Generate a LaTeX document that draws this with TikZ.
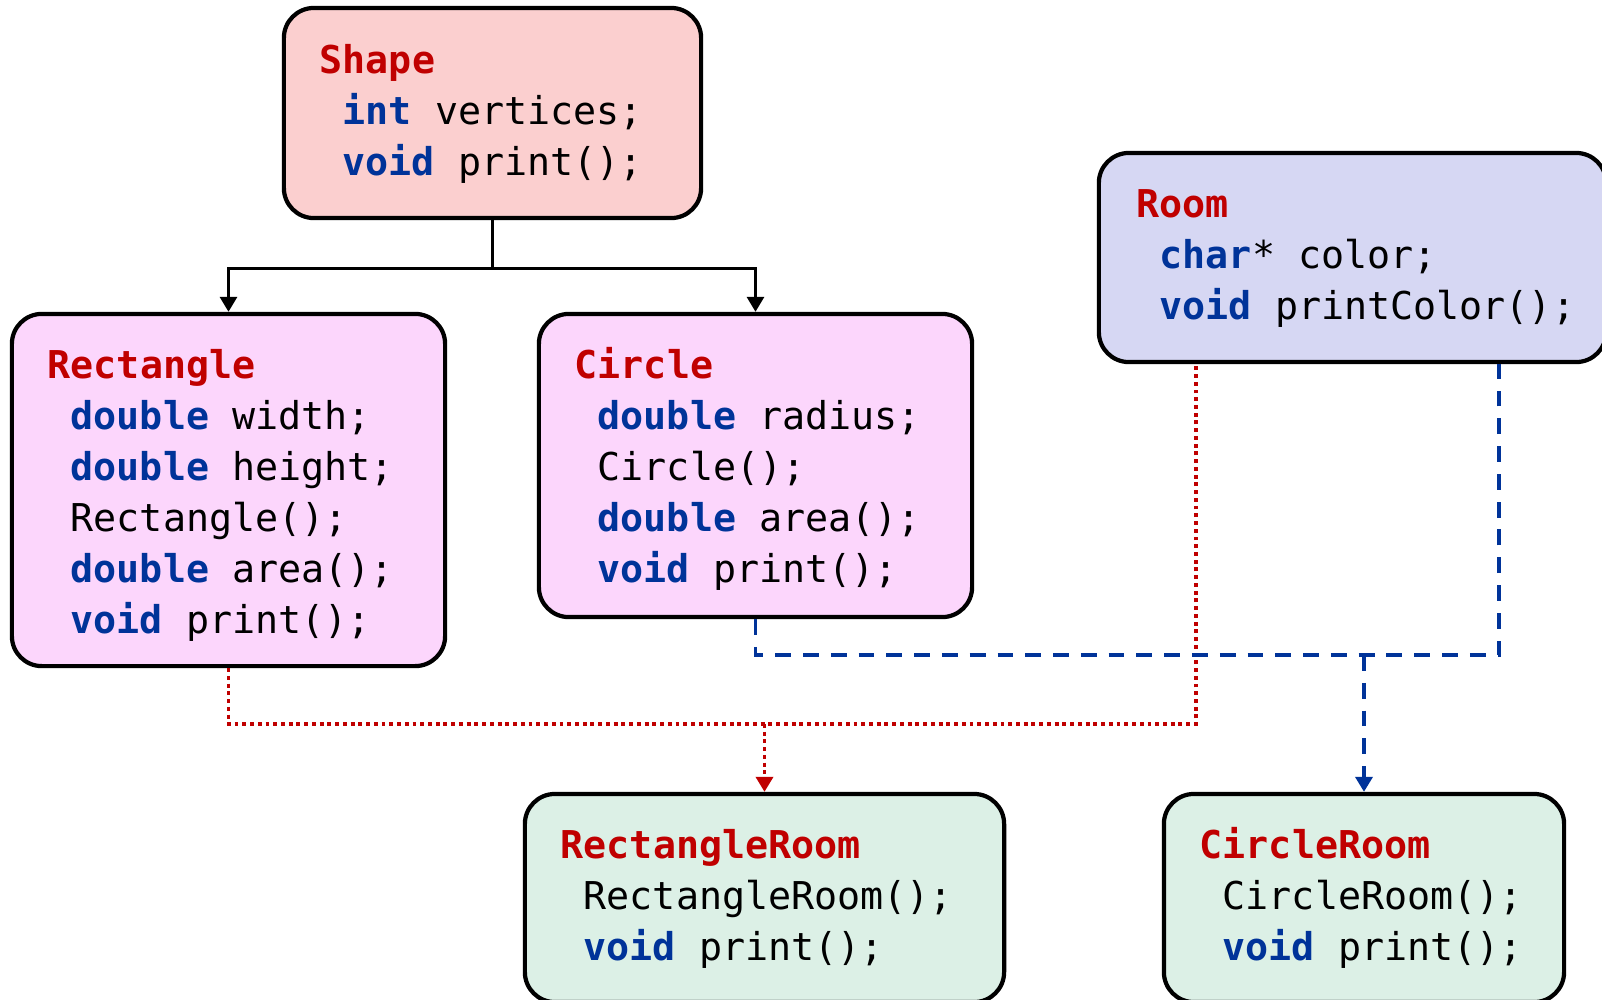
\documentclass[tikz,border=0pt]{standalone}
\usepackage{fontspec}
\setmonofont{DejaVu Sans Mono}
\usepackage{xcolor}
\usetikzlibrary{arrows.meta}

\definecolor{titlered}{RGB}{192,0,0}
\definecolor{kwblue}{RGB}{0,51,153}
\definecolor{shapefill}{RGB}{251,207,207}
\definecolor{classfill}{RGB}{252,214,252}
\definecolor{roomfill}{RGB}{214,215,243}
\definecolor{mixfill}{RGB}{220,240,230}
\newcommand{\kw}[1]{\textbf{\color{kwblue}#1}}
\newcommand{\cname}[1]{\textbf{\color{titlered}#1}}

\begin{document}
\begin{tikzpicture}[x=0.01cm,y=-0.01cm,
  classbox/.style={draw=black, line width=1.2pt, rounded corners=0.3cm, inner sep=0pt},
  code/.style={anchor=base west, inner sep=0pt, font=\ttfamily\fontsize{10.9}{14.5}\selectfont},
  inherit/.style={draw=black, line width=0.9pt, -{Triangle[width=0.17cm,length=0.15cm]}},
  redlink/.style={draw=titlered, line width=1pt, dash pattern=on 1.1pt off 1.1pt},
  bluelink/.style={draw=kwblue, line width=1pt, dash pattern=on 4.5pt off 3.4pt}]
\path[use as bounding box] (0,0) rectangle (1602,999);
\clip (0,0) rectangle (1602,999);

% class boxes
\node[classbox, fill=shapefill, minimum width=4.17cm, minimum height=2.10cm] (shape) at (492.5,113) {};
\node[classbox, fill=classfill, minimum width=4.33cm, minimum height=3.52cm] (rect) at (228.5,490) {};
\node[classbox, fill=classfill, minimum width=4.33cm, minimum height=3.03cm] (circle) at (755.5,465.5) {};
\node[classbox, fill=roomfill, minimum width=5.07cm, minimum height=2.09cm] (room) at (1352.5,257.5) {};
\node[classbox, fill=mixfill, minimum width=4.79cm, minimum height=2.08cm] (rroom) at (764.5,898) {};
\node[classbox, fill=mixfill, minimum width=4.00cm, minimum height=2.08cm] (croom) at (1364,898) {};

% Shape
\node[code] (shapet) at (319,73) {\cname{Shape}};
\node[code] (shape1) at (342,124) {\kw{int} vertices;};
\node[code] (shape2) at (342,175) {\kw{void} print();};
% Rectangle
\node[code] (rectt) at (47,378) {\cname{Rectangle}};
\node[code] (rect1) at (70,429) {\kw{double} width;};
\node[code] (rect2) at (70,480) {\kw{double} height;};
\node[code] (rect3) at (70,531) {Rectangle();};
\node[code] (rect4) at (70,582) {\kw{double} area();};
\node[code] (rect5) at (70,633) {\kw{void} print();};
% Circle
\node[code] (circlet) at (574,378) {\cname{Circle}};
\node[code] (circle1) at (597,429) {\kw{double} radius;};
\node[code] (circle2) at (597,480) {Circle();};
\node[code] (circle3) at (597,531) {\kw{double} area();};
\node[code] (circle4) at (597,582) {\kw{void} print();};
% Room
\node[code] (roomt) at (1136,217) {\cname{Room}};
\node[code] (room1) at (1159,268) {\kw{char}* color;};
\node[code] (room2) at (1159,319) {\kw{void} printColor();};
% RectangleRoom
\node[code] (rroomt) at (560,858) {\cname{RectangleRoom}};
\node[code] (rroom1) at (583,909) {RectangleRoom();};
\node[code] (rroom2) at (583,960) {\kw{void} print();};
% CircleRoom
\node[code] (croomt) at (1199,858) {\cname{CircleRoom}};
\node[code] (croom1) at (1222,909) {CircleRoom();};
\node[code] (croom2) at (1222,960) {\kw{void} print();};

% inheritance
\draw[inherit] (shape.south) -- ++(0,48) -| (rect.north);
\draw[inherit] (shape.south) -- ++(0,48) -| (circle.north);

% RectangleRoom links
\coordinate (rjoin) at (764.5,724);
\coordinate (rtap) at (1196,724);
\draw[redlink] (rect.south) |- (rtap) -- (rtap |- room.south);
\draw[redlink, -{Triangle[width=0.17cm,length=0.15cm]}] (rjoin) -- (rroom.north);

% CircleRoom links
\coordinate (bjoin) at (1364,655);
\coordinate (btap) at (1499,655);
\draw[bluelink] (circle.south) |- (btap) -- (btap |- room.south);
\draw[bluelink, -{Triangle[width=0.17cm,length=0.15cm]}] (bjoin) -- (croom.north);
\end{tikzpicture}
\end{document}
